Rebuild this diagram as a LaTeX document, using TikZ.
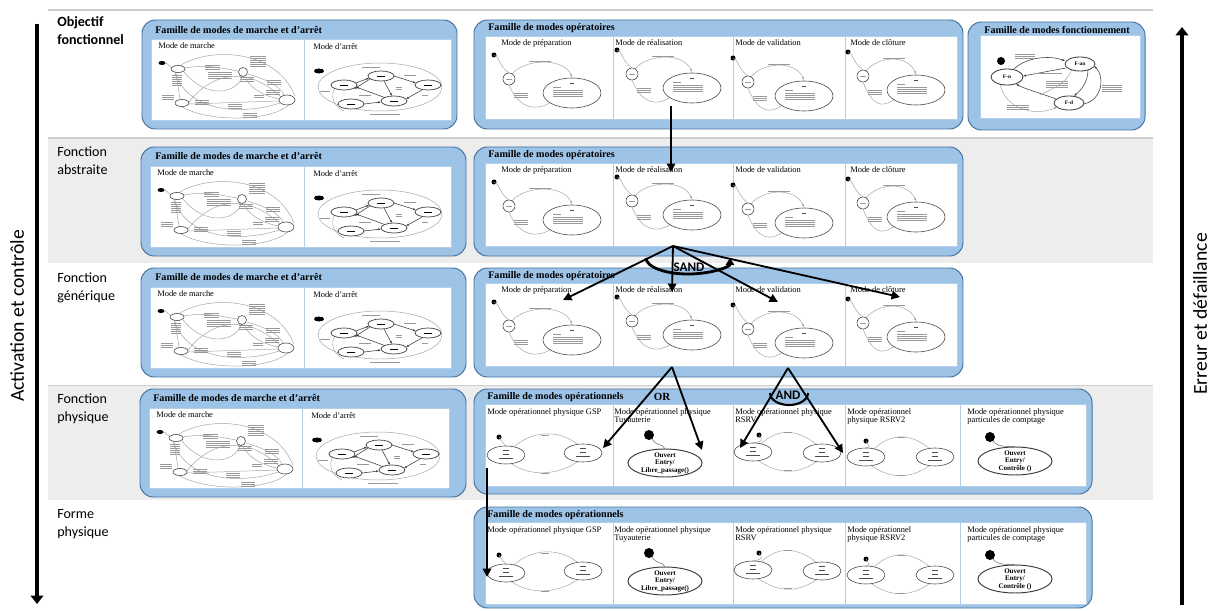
\documentclass[tikz,border=0pt]{standalone}
\usepackage{fontspec}
\setmainfont{Liberation Serif}
\newfontfamily\calibri{Carlito}
\usetikzlibrary{arrows.meta}

\definecolor{fondbleu}{RGB}{157,195,230}
\definecolor{bordbleu}{RGB}{72,116,160}
\definecolor{fondgris}{RGB}{237,237,237}
\definecolor{traitgris}{RGB}{205,205,205}
\definecolor{etatgris}{RGB}{165,165,165}

% texte illisible des vignettes : quelques traits gris
\newcommand{\bloc}[4]{\foreach \k in {1,...,#3}{\draw[minitexte] ({#1},{#2+2*(\k-1)}) -- ++(#4,0);}}

% vignette mode de marche (coin haut gauche du panneau)
\newcommand{\vigmarche}[2]{%
\begin{scope}[shift={(#1,#2)}]
  \node[soustitre] (marche-#1-#2) at (7,3) {Mode de marche};
  \fill (11,24) ellipse (3.5 and 2);
  \draw[trans] (14,24) to[out=0,in=160] (21,29);
  \draw[trans] (34,29) to[out=10,in=170] (87,32);
  \draw[trans] (25,34) -- (29,60);
  \draw[trans] (30,26) .. controls (60,8) and (125,10) .. (144,57);
  \draw[trans] (33,33) .. controls (55,60) and (85,55) .. (91,38);
  \draw[trans] (38,63) .. controls (60,35) and (95,25) .. (130,58);
  \draw[trans] (97,35) .. controls (115,40) and (130,48) .. (133,56);
  \draw[trans] (38,65) -- (128,62);
  \draw[trans] (31,68) .. controls (60,84) and (120,82) .. (138,66);
  \draw[trans] (24,34) .. controls (40,78) and (100,74) .. (129,64);
  \draw[trans] (94,38) .. controls (100,52) and (118,58) .. (128,60);
  \draw[etat, fill=white] (27,30) ellipse (7 and 3.5);
  \draw[etat, fill=white] (92,33) circle (4.5);
  \draw[etat, fill=white] (31,64) ellipse (7 and 3.5);
  \draw[etat, fill=white] (136,61) ellipse (8 and 5);
  \bloc{54}{26}{3}{15} \bloc{57}{33}{4}{24} \bloc{99}{17}{6}{16}
  \bloc{21}{36}{6}{10} \bloc{89}{38}{3}{14} \bloc{116}{41}{3}{14}
  \bloc{115}{51}{3}{14} \bloc{11}{56}{3}{12} \bloc{44}{61}{3}{14}
  \bloc{77}{65}{3}{14} \bloc{92}{74}{3}{14} \bloc{103}{56}{2}{10}
\end{scope}}

% vignette mode d'arret
\newcommand{\vigarret}[2]{%
\begin{scope}[shift={(#1,#2)}]
  \node[soustitre] (arret-#1-#2) at (9,4) {Mode d'arrêt};
  \fill (15,32) ellipse (5 and 2.5);
  \draw[trans] (76,48) ellipse (62 and 24);
  \draw[etat, ->] (52,44) -- (65,39);
  \draw[etat, ->] (90,37) -- (112,44);
  \draw[etat, ->] (80,42) -- (88,57);
  \draw[etat, ->] (60,65) -- (77,63);
  \draw[etat, ->] (118,51) -- (102,60);
  \draw[etat, ->] (66,40) -- (50,50);
  \draw[etat, ->] (82,59) -- (52,48);
  \draw[trans] (30,50) .. controls (25,62) and (35,70) .. (40,72);
  \foreach \ex/\ey in {77/37, 40/46, 124/46, 47/65, 90/62}{
    \draw[etat, fill=white, line width=0.5pt] (\ex,\ey) ellipse (13 and 5);
    \draw[minitexte, black] ({\ex-4},\ey) -- ({\ex+4},\ey);}
  \bloc{58}{28}{1}{18} \bloc{100}{36}{1}{12} \bloc{92}{48}{2}{6}
  \bloc{55}{56}{1}{12} \bloc{66}{75}{1}{30} \bloc{118}{56}{1}{6} \bloc{16}{52}{1}{10}
\end{scope}}

% vignette mode operatoire : coin, largeur, titre, retrait, point initial
\newcommand{\vigop}[7]{%
\begin{scope}[shift={(#1,#2)}]
  \node[soustitre] (op-#1-#2) at (#5,3) {#4};
  \fill (#6,#7) circle (2.5);
  \draw[trans] (#6,#7) .. controls ({#6+6},{#7+2}) and ({#6+4},{#7+10}) .. ({#6+15},{#7+18});
  \draw[trans, ->] ({#6+18},{#7+19}) .. controls ({#6+30},{#7+4}) and ({#3-50},{#7+2}) .. ({#3-41},{#7+22});
  \draw[trans] ({#3-62},{#7+47}) .. controls ({#3-75},{#7+56}) and ({#6+25},{#7+55}) .. ({#6+15},{#7+30});
  \draw[etat, fill=white] ({#6+15},{#7+24}) circle (6);
  \draw[etat, fill=white] ({#3-41},{#7+38}) ellipse (29 and 15);
  \draw[minitexte] ({#6+12},{#7+24}) -- ++(6,0);
  \draw[minitexte] ({#6+35},{#7+6}) -- ++(22,0);
  \draw[minitexte, black!70] ({#3-43},{#7+28}) -- ++(4,0);
  \bloc{#3-60}{#7+32}{1}{8}
  \bloc{#3-60}{#7+35}{4}{30}
  \bloc{#6+20}{#7+38}{3}{14}
\end{scope}}

% vignette a deux etats : coin, titre, point initial, etat gauche, etat droit
\newcommand{\vigdeux}[9]{%
\begin{scope}[shift={(#1,#2)}]
  \node[soustitre] (deux-#1-#2) at (2,4) {#3};
  \fill (#4,#5) circle (2.5);
  \draw[trans] (#4,#5) .. controls ({#4+4},{#5+6}) .. ({#6},{#7-9});
  \draw[trans] ({#6+8},{#7-8}) .. controls ({#6+25},{#7-24}) and ({#8-25},{#9-24}) .. ({#8-6},{#9-9});
  \draw[trans] ({#8-6},{#9+9}) .. controls ({#8-25},{#9+22}) and ({#6+25},{#7+22}) .. ({#6+6},{#7+9});
  \draw[etat, fill=white] (#6,#7) ellipse (19 and 9);
  \draw[etat, fill=white] (#8,#9) ellipse (19 and 9);
  \foreach \ex/\ey in {#6/#7, #8/#9}{
    \draw[minitexte, black!70] ({\ex-3},{\ey-5}) -- ++(6,0);
    \draw[minitexte, black!70] ({\ex-3},{\ey-1}) -- ++(6,0);
    \draw[minitexte, black!70] ({\ex-7},{\ey+3}) -- ++(14,0);}
  \draw[minitexte] ({(#6+#8)/2-4},{#7-20}) -- ++(8,0);
  \draw[minitexte] ({(#6+#8)/2-4},{#7+18}) -- ++(8,0);
\end{scope}}

% vignette a un etat : coin, titre, point initial, etat, action, retrait
\newcommand{\vigun}[9]{%
\begin{scope}[shift={(#1,#2)}]
  \node[soustitre] (un-#1-#2) at (#9,4) {#3};
  \fill (#4,#5) circle (5);
  \draw[trans, black!60] ({#4+3},{#5+4}) .. controls ({#4+8},{#5+12}) and ({#6-2},{#5+8}) .. ({#6},{#7-14});
  \draw[etat, fill=white, line width=0.7pt] (#6,#7) ellipse (37 and 14);
  \node[etattexte] (ouv-#1-#2) at ({#6},{#7-8}) {Ouvert};
  \node[etattexte] (ent-#1-#2) at (#6,#7) {Entry/};
  \node[etattexte] (act-#1-#2) at ({#6},{#7+8}) {#8};
\end{scope}}

% vignette modes de fonctionnement
\newcommand{\vigfonct}[2]{%
\begin{scope}[shift={(#1,#2)}]
  \fill (21,26) circle (4);
  \draw[etat, ->] (33,35) .. controls (45,22) and (70,20) .. (85,26);
  \draw[etat, ->] (86,33) -- (43,41);
  \draw[etat, ->] (108,35) .. controls (108,48) and (100,56) .. (94,61);
  \draw[etat, ->] (104,69) .. controls (124,64) and (124,40) .. (114,31);
  \draw[etat, ->] (76,64) .. controls (60,58) and (45,54) .. (36,49);
  \draw[trans, ->] (20,49) .. controls (25,74) and (55,82) .. (77,72);
  \draw[trans] (92,34) .. controls (88,48) and (70,55) .. (60,60);
  \draw[etat, fill=white, line width=0.6pt] (100,29) ellipse (15 and 7);
  \draw[etat, fill=white, line width=0.6pt] (27,42) ellipse (16 and 8);
  \draw[etat, fill=white, line width=0.6pt] (89,68) ellipse (15 and 7);
  \node[fonctexte] (fan-#1) at (100,29) {F-an};
  \node[fonctexte] (fn-#1) at (27,42) {F-n};
  \node[fonctexte] (fd-#1) at (89,68) {F-d};
  \bloc{35}{19}{3}{20} \bloc{56}{38}{1}{26} \bloc{66}{46}{4}{22}
  \bloc{122}{50}{4}{20} \bloc{27}{70}{3}{22}
\end{scope}}

\begin{document}
\begin{tikzpicture}[x=0.025cm, y=-0.025cm, >={Latex[length=2pt,width=1.6pt]},
    famille/.style={draw=bordbleu, fill=fondbleu, line width=0.7pt, rounded corners=9.5pt},
    panneau/.style={draw=fondbleu!80!white, fill=white, line width=0.6pt},
    titre/.style={font=\bfseries\fontsize{7.2}{8}\selectfont, anchor=west, inner sep=0pt},
    soustitre/.style={font=\fontsize{6}{6}\selectfont, anchor=north west, align=left, inner sep=0pt},
    niveau/.style={font=\calibri\fontsize{10}{12.8}\selectfont, anchor=north west, align=left, inner sep=0pt},
    axe/.style={font=\calibri\fontsize{14}{16}\selectfont, rotate=90, inner sep=0pt},
    barre/.style={line width=3.2pt, -{Triangle[width=9pt,length=6pt]}},
    fleche/.style={line width=1.3pt, -{Triangle[width=6pt,length=6pt]}},
    etat/.style={draw=black!75, line width=0.4pt},
    trans/.style={draw=etatgris, line width=0.35pt},
    minitexte/.style={draw=black!40, line width=0.5pt},
    etattexte/.style={font=\bfseries\fontsize{5}{5}\selectfont, inner sep=0pt},
    fonctexte/.style={font=\bfseries\fontsize{3.8}{4}\selectfont, inner sep=0pt},
    logique/.style={font=\calibri\bfseries\fontsize{9.3}{10}\selectfont, inner sep=0pt}]
\useasboundingbox (0,0) rectangle (1213,611);
% fonds des niveaux
\fill[fondgris] (48,138) rectangle (1153,263);
\fill[fondgris] (48,385) rectangle (1153,500);
\draw[traitgris, line width=1pt] (48,10) -- (1153,10);
\draw[traitgris, line width=1pt] (48,138) -- (1153,138);
\draw[traitgris, line width=0.6pt] (48,385) -- (1153,385);
% axes lateraux
\coordinate (actH) at (37,24);
\coordinate (actB) at (37,604);
\draw[barre] (actH) -- (actB);
\node[axe] (activ) at (17,316) {Activation et contrôle};
\coordinate (errB) at (1182,605);
\coordinate (errH) at (1182,27);
\draw[barre] (errB) -- (errH);
\node[axe] (erreur) at (1200,314) {Erreur et défaillance};
% niveaux
\node[niveau, font=\calibri\bfseries\fontsize{10}{12.8}\selectfont] (n1) at (57,16) {Objectif\\fonctionnel};
\node[niveau] (n2) at (57,146) {Fonction\\abstraite};
\node[niveau] (n3) at (57,272) {Fonction\\générique};
\node[niveau] (n4) at (57,393) {Fonction\\physique};
\node[niveau] (n5) at (57,509) {Forme\\physique};

% familles de modes de marche et d'arret
\draw[famille] (142,20) rectangle (457,129);
\node[titre] (tm1) at (155,30) {Famille de modes de marche et d'arrêt};
\draw[panneau] (151,39) rectangle (304,120);
\draw[panneau] (304,39) rectangle (451,120);
\vigmarche{151}{39}
\vigarret{304}{39}
\draw[famille] (141,147) rectangle (466,256);
\node[titre] (tm2) at (155,156) {Famille de modes de marche et d'arrêt};
\draw[panneau] (150,166) rectangle (304,247);
\draw[panneau] (304,166) rectangle (451,247);
\vigmarche{150}{166}
\vigarret{304}{166}
\draw[famille] (141,268) rectangle (466,377);
\node[titre] (tm3) at (155,277) {Famille de modes de marche et d'arrêt};
\draw[panneau] (150,287) rectangle (304,368);
\draw[panneau] (304,287) rectangle (451,368);
\vigmarche{150}{287}
\vigarret{304}{287}
\draw[famille] (140,389) rectangle (466,497);
\node[titre] (tm4) at (153,398) {Famille de modes de marche et d'arrêt};
\draw[panneau] (149,408) rectangle (302,488);
\draw[panneau] (302,408) rectangle (449,488);
\vigmarche{149}{408}
\vigarret{302}{408}

% familles de modes operatoires
\foreach \yb/\yt/\yp in {20/28/36, 147/155/163, 268/276/283}{
  \draw[famille] (474,\yb) rectangle (963,\yb+109);
  \node[titre] (to-\yb) at (488,\yt) {Famille de modes opératoires};
  \foreach \xa/\xb in {485/613, 613/733, 733/845, 845/957}
    \draw[panneau] (\xa,\yp) rectangle (\xb,\yp+83);
  \vigop{485}{\yp}{128}{Mode de préparation}{16}{9}{19}
  \vigop{613}{\yp}{120}{Mode de réalisation}{2}{4}{14}
  \vigop{733}{\yp}{112}{Mode de validation}{2}{0}{22}
  \vigop{845}{\yp}{112}{Mode de clôture}{5}{3}{16}
}

% famille de modes fonctionnement
\draw[famille] (968,22) rectangle (1145,130);
\node[titre, anchor=center] (tf) at (1057,30) {Famille de modes fonctionnement};
\draw[panneau] (980,35) rectangle (1140,118);
\vigfonct{980}{35}

% familles de modes operationnels
\foreach \yb/\ye/\yt/\yp in {389/494/397/404, 507/608/515/522}{
  \draw[famille] (474,\yb) rectangle (1092,\ye);
  \node[titre] (tp-\yb) at (487,\yt) {Famille de modes opérationnels};
  \foreach \xa/\xb in {485/613, 613/733, 733/845, 845/960, 960/1086}
    \draw[panneau] (\xa,\yp) rectangle (\xb,\yp+82);
  \vigdeux{485}{\yp}{Mode opérationnel physique GSP}{14}{33}{21}{51}{98}{49}
  \vigun{613}{\yp}{Mode opérationnel physique\\Tuyauterie}{36}{31}{52}{59}{Libre\_passage()}{1}
  \vigdeux{733}{\yp}{Mode opérationnel physique\\RSRV}{26}{31}{20}{48}{89}{49}
  \vigdeux{845}{\yp}{Mode opérationnel\\physique RSRV2}{21}{37}{21}{53}{90}{53}
  \vigun{960}{\yp}{Mode opérationnel physique\\particules de comptage}{30}{33}{55}{57}{Contrôle ()}{7}
}

% liens entre les niveaux
\coordinate (r1) at (671,106);
\coordinate (r2) at (671,172);
\draw[fleche] (r1) -- (r2);
% decomposition SAND
\coordinate (s0) at (673,246);
\coordinate (s1) at (563,300);
\coordinate (s2) at (672,292);
\coordinate (s3) at (778,302);
\coordinate (s4) at (900,297);
\foreach \c in {s1,s2,s3,s4}
  \draw[fleche] (s0) -- (\c);
\coordinate (sandG) at (646,258);
\draw[line width=2pt, -{Triangle[width=6pt,length=5pt]}] (sandG) arc[start angle=180, end angle=0, x radius=42, y radius=16];
\node[logique] (sand) at (689,267) {SAND};
% decomposition OR
\coordinate (o0) at (672,367);
\coordinate (o1) at (603,448);
\coordinate (o2) at (702,450);
\draw[fleche] (o0) -- (o1);
\draw[fleche] (o0) -- (o2);
\node[font=\bfseries\fontsize{7.8}{8}\selectfont, inner sep=0pt] (ou) at (662,397) {OR};
% decomposition AND
\coordinate (a0) at (788,368);
\coordinate (a1) at (740,448);
\coordinate (a2) at (843,453);
\draw[fleche] (a0) -- (a1);
\draw[fleche] (a0) -- (a2);
\coordinate (andG) at (770,393);
\draw[line width=1.5pt] (andG) arc[start angle=180, end angle=0, x radius=19, y radius=12];
\node[logique] (et) at (788,395) {AND};
% GSP vers forme physique
\coordinate (g4) at (487,468);
\coordinate (g5) at (487,577);
\draw[fleche] (g4) -- (g5);
\end{tikzpicture}
\end{document}
